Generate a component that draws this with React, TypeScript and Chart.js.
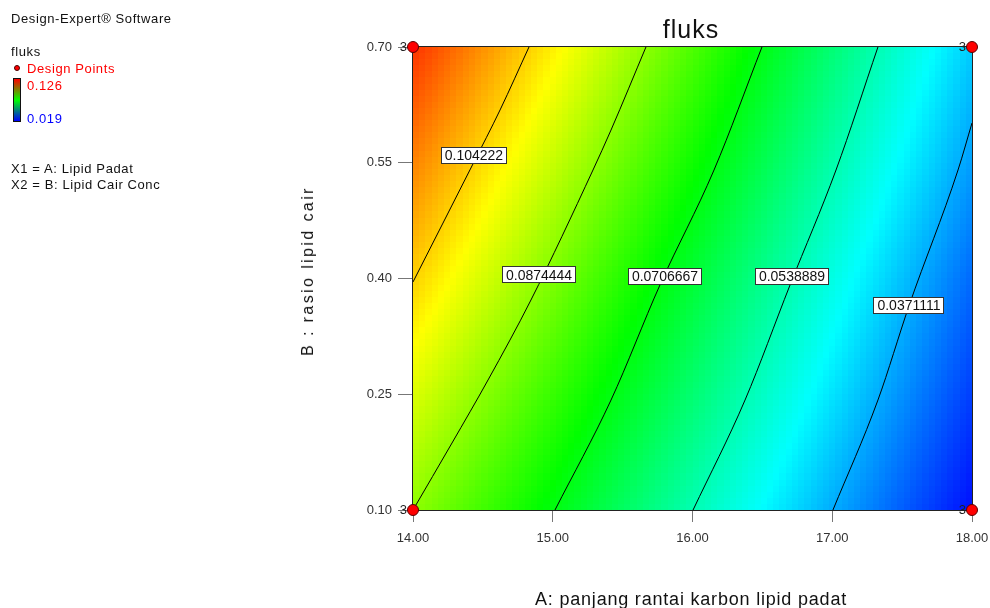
import React, { useEffect, useRef } from "react";
import { Chart, registerables } from "chart.js";
Chart.register(...registerables);

// ---------- data ----------
const A_TICKS = [14, 15, 16, 17, 18];
const B_TICKS = [0.1, 0.25, 0.4, 0.55, 0.7];

// response surface (fluks) sampled on a 5x5 grid of A (columns) and B (rows)
const GRID_A = [14, 15, 16, 17, 18];
const GRID_B = [0.1, 0.25, 0.4, 0.55, 0.7];
const FLUKS_B010 = [0.0874, 0.0709, 0.0539, 0.0371, 0.0205];
const FLUKS_B025 = [0.0958, 0.0782, 0.0607, 0.043, 0.0254];
const FLUKS_B040 = [0.1043, 0.0857, 0.067, 0.0486, 0.03];
const FLUKS_B055 = [0.1124, 0.0933, 0.0739, 0.0546, 0.0355];
const FLUKS_B070 = [0.1208, 0.1008, 0.0806, 0.0604, 0.0403];
const FLUKS_GRID = [FLUKS_B010, FLUKS_B025, FLUKS_B040, FLUKS_B055, FLUKS_B070];

const COLOR_MIN = 0.019;
const COLOR_MAX = 0.126;

// contour lines
const CONTOUR_LEVELS = ["0.104222", "0.0874444", "0.0706667", "0.0538889", "0.0371111"];
const CONTOUR_1 = [
  { x: 14.0, y: 0.3955 },
  { x: 14.429, y: 0.5484 },
  { x: 14.623, y: 0.6184 },
  { x: 14.83, y: 0.7 },
];
const CONTOUR_2 = [
  { x: 14.0, y: 0.1 },
  { x: 14.279, y: 0.1868 },
  { x: 14.537, y: 0.2685 },
  { x: 14.844, y: 0.3721 },
  { x: 15.288, y: 0.5406 },
  { x: 15.417, y: 0.5924 },
  { x: 15.667, y: 0.7 },
];
const CONTOUR_3 = [
  { x: 15.016, y: 0.1 },
  { x: 15.417, y: 0.2425 },
  { x: 15.767, y: 0.3916 },
  { x: 16.154, y: 0.5406 },
  { x: 16.497, y: 0.7 },
];
const CONTOUR_4 = [
  { x: 16.004, y: 0.1 },
  { x: 16.376, y: 0.2425 },
  { x: 16.698, y: 0.3916 },
  { x: 17.027, y: 0.5406 },
  { x: 17.327, y: 0.7 },
];
const CONTOUR_5 = [
  { x: 17.005, y: 0.1 },
  { x: 17.327, y: 0.2425 },
  { x: 17.55, y: 0.365 },
  { x: 17.9, y: 0.5406 },
  { x: 18.0, y: 0.6015 },
];
const CONTOURS = [CONTOUR_1, CONTOUR_2, CONTOUR_3, CONTOUR_4, CONTOUR_5];
const CONTOUR_LABEL_A = [14.436, 14.902, 15.803, 16.712, 17.549];
const CONTOUR_LABEL_B = [0.56, 0.405, 0.4026, 0.4026, 0.365];

// design points
const DESIGN_POINTS = [
  { x: 14, y: 0.1 },
  { x: 14, y: 0.7 },
  { x: 18, y: 0.1 },
  { x: 18, y: 0.7 },
];
const DESIGN_POINT_REPS = ["3", "3", "3", "3"];

// ---------- helpers ----------
const FONT = "'Liberation Sans', Arial, sans-serif";

function fluksAt(a: number, b: number): number {
  let i = GRID_A.length - 2;
  for (let k = 0; k < GRID_A.length - 1; k++) {
    if (a <= GRID_A[k + 1]) { i = k; break; }
  }
  let j = GRID_B.length - 2;
  for (let k = 0; k < GRID_B.length - 1; k++) {
    if (b <= GRID_B[k + 1]) { j = k; break; }
  }
  const ta = (a - GRID_A[i]) / (GRID_A[i + 1] - GRID_A[i]);
  const tb = (b - GRID_B[j]) / (GRID_B[j + 1] - GRID_B[j]);
  const v00 = FLUKS_GRID[j][i];
  const v10 = FLUKS_GRID[j][i + 1];
  const v01 = FLUKS_GRID[j + 1][i];
  const v11 = FLUKS_GRID[j + 1][i + 1];
  return v00 * (1 - ta) * (1 - tb) + v10 * ta * (1 - tb) + v01 * (1 - ta) * tb + v11 * ta * tb;
}

const CMAP: [number, number, number, number][] = [
  [0, 0, 0, 255],
  [0.25, 0, 255, 255],
  [0.5, 0, 255, 0],
  [0.75, 255, 255, 0],
  [1, 255, 0, 0],
];
function colorFor(v: number): string {
  let t = (v - COLOR_MIN) / (COLOR_MAX - COLOR_MIN);
  t = Math.max(0, Math.min(1, t));
  for (let k = 0; k < CMAP.length - 1; k++) {
    const s0 = CMAP[k], s1 = CMAP[k + 1];
    if (t <= s1[0]) {
      const f = (t - s0[0]) / (s1[0] - s0[0]);
      const r = Math.round(s0[1] + (s1[1] - s0[1]) * f);
      const g = Math.round(s0[2] + (s1[2] - s0[2]) * f);
      const bl = Math.round(s0[3] + (s1[3] - s0[3]) * f);
      return `rgb(${r},${g},${bl})`;
    }
  }
  return "rgb(255,0,0)";
}

const surfacePlugin = {
  id: "surface",
  beforeDatasetsDraw(chart: any) {
    const { ctx, chartArea: ca, scales } = chart;
    const xs = scales.x, ys = scales.y;
    const nx = 90, ny = 76;
    const a0 = xs.min, a1 = xs.max, b0 = ys.min, b1 = ys.max;
    ctx.save();
    for (let i = 0; i < nx; i++) {
      const aL = a0 + ((a1 - a0) * i) / nx;
      const aR = a0 + ((a1 - a0) * (i + 1)) / nx;
      const px0 = Math.round(xs.getPixelForValue(aL));
      const px1 = Math.round(xs.getPixelForValue(aR));
      for (let j = 0; j < ny; j++) {
        const bL = b0 + ((b1 - b0) * j) / ny;
        const bH = b0 + ((b1 - b0) * (j + 1)) / ny;
        const py0 = Math.round(ys.getPixelForValue(bH));
        const py1 = Math.round(ys.getPixelForValue(bL));
        ctx.fillStyle = colorFor(fluksAt((aL + aR) / 2, (bL + bH) / 2));
        ctx.fillRect(px0, py0, px1 - px0, py1 - py0);
      }
    }
    // frame
    ctx.strokeStyle = "#222";
    ctx.lineWidth = 1;
    ctx.strokeRect(Math.round(ca.left) - 0.5, Math.round(ca.top) - 0.5, Math.round(ca.right - ca.left) + 1, Math.round(ca.bottom - ca.top) + 1);
    ctx.restore();
  },
  afterDatasetsDraw(chart: any) {
    const { ctx, scales } = chart;
    const xs = scales.x, ys = scales.y;
    ctx.save();
    ctx.font = `14px ${FONT}`;
    ctx.textBaseline = "middle";
    ctx.textAlign = "center";
    for (let k = 0; k < CONTOUR_LEVELS.length; k++) {
      const cx = xs.getPixelForValue(CONTOUR_LABEL_A[k]);
      const cy = ys.getPixelForValue(CONTOUR_LABEL_B[k]);
      const w = Math.round(ctx.measureText(CONTOUR_LEVELS[k]).width + 8);
      const h = 17;
      const left = Math.round(cx - w / 2), top = Math.round(cy - h / 2);
      ctx.fillStyle = "#ffffff";
      ctx.fillRect(left, top, w, h);
      ctx.strokeStyle = "#333";
      ctx.lineWidth = 1;
      ctx.strokeRect(left + 0.5, top + 0.5, w - 1, h - 1);
      ctx.fillStyle = "#111";
      ctx.fillText(CONTOUR_LEVELS[k], cx, cy + 1);
    }
    ctx.font = `13px ${FONT}`;
    ctx.textAlign = "right";
    ctx.fillStyle = "#222";
    for (let k = 0; k < DESIGN_POINTS.length; k++) {
      const px = xs.getPixelForValue(DESIGN_POINTS[k].x);
      const py = ys.getPixelForValue(DESIGN_POINTS[k].y);
      ctx.fillText(DESIGN_POINT_REPS[k], px - 6, py);
    }
    ctx.restore();
  },
};

export default function App() {
  const ref = useRef<HTMLCanvasElement | null>(null);

  useEffect(() => {
    if (!ref.current) return;
    const contourSets = CONTOURS.map((pts, k) => ({
      label: CONTOUR_LEVELS[k],
      data: pts,
      showLine: true,
      borderColor: "#000",
      borderWidth: 1,
      pointRadius: 0,
      cubicInterpolationMode: "monotone",
      order: 2,
    }));
    const chart = new Chart(ref.current, {
      type: "scatter",
      data: {
        datasets: [
          {
            label: "Design Points",
            data: DESIGN_POINTS,
            showLine: false,
            pointRadius: 5.5,
            pointBackgroundColor: "#ff0000",
            pointBorderColor: "#5a0000",
            pointBorderWidth: 1,
            clip: false as any,
            order: 0,
          } as any,
          ...contourSets,
        ],
      },
      options: {
        animation: false,
        responsive: false,
        events: [],
        devicePixelRatio: 1,
        layout: { padding: { top: 47, right: 18, left: 0, bottom: 0 } },
        plugins: {
          legend: { display: false },
          tooltip: { enabled: false },
          title: { display: false },
        },
        scales: {
          x: {
            type: "linear",
            min: 14,
            max: 18,
            afterFit: (s: any) => {
              s.height = 98;
              s.paddingLeft = 0; s.paddingRight = 0; s.paddingTop = 0; s.paddingBottom = 0;
            },
            afterBuildTicks: (s: any) => { s.ticks = A_TICKS.map((v) => ({ value: v })); },
            ticks: {
              callback: (v: any) => Number(v).toFixed(2),
              font: { family: FONT, size: 13 },
              color: "#333",
              padding: 9,
              maxRotation: 0,
            },
            grid: { drawOnChartArea: false, drawTicks: true, tickLength: 12, color: "#777" },
            border: { display: false },
          },
          y: {
            type: "linear",
            min: 0.1,
            max: 0.7,
            afterFit: (s: any) => {
              s.width = 413;
              s.paddingLeft = 0; s.paddingRight = 0; s.paddingTop = 0; s.paddingBottom = 0;
            },
            afterBuildTicks: (s: any) => { s.ticks = B_TICKS.map((v) => ({ value: v })); },
            ticks: {
              callback: (v: any) => Number(v).toFixed(2),
              font: { family: FONT, size: 13 },
              color: "#333",
              padding: 6,
            },
            grid: { drawOnChartArea: false, drawTicks: true, tickLength: 15, color: "#777" },
            border: { display: false },
          },
        },
      },
      plugins: [surfacePlugin],
    } as any);
    return () => chart.destroy();
  }, []);

  const txt = (extra: React.CSSProperties): React.CSSProperties => ({
    position: "absolute",
    fontFamily: FONT,
    fontSize: 13,
    lineHeight: "13px",
    letterSpacing: "0.6px",
    whiteSpace: "nowrap",
    color: "#111",
    ...extra,
  });

  return (
    <div style={{ position: "fixed", left: 0, top: 0, width: 990, height: 608, overflow: "hidden", background: "#fff" }}>
      <canvas ref={ref} width={990} height={608} style={{ position: "absolute", left: 0, top: 0, width: 990, height: 608 }} />
      <div style={txt({ left: 11, top: 12 })}>Design-Expert® Software</div>
      <div style={txt({ left: 11, top: 45 })}>fluks</div>
      <div style={{ position: "absolute", left: 14, top: 65, width: 6, height: 6, borderRadius: 3, background: "#ff0000", border: "1px solid #400", boxSizing: "border-box" }} />
      <div style={txt({ left: 27, top: 62, color: "#ff0000" })}>Design Points</div>
      <div style={{ position: "absolute", left: 13, top: 78, width: 8, height: 44, boxSizing: "border-box", border: "1px solid #111", background: "linear-gradient(to bottom, #ff0000, #00ff00, #0000ff)" }} />
      <div style={txt({ left: 27, top: 79, color: "#ff0000" })}>0.126</div>
      <div style={txt({ left: 27, top: 112, color: "#0000ff" })}>0.019</div>
      <div style={txt({ left: 11, top: 162 })}>X1 = A: Lipid Padat</div>
      <div style={txt({ left: 11, top: 178 })}>X2 = B: Lipid Cair Conc</div>
      <div style={txt({ left: 691, top: 17, fontSize: 25, lineHeight: "25px", letterSpacing: "1px", transform: "translateX(-50%)" })}>fluks</div>
      <div style={txt({ left: 691, top: 590, fontSize: 18, lineHeight: "18px", letterSpacing: "0.8px", transform: "translateX(-50%)" })}>A: panjang rantai karbon lipid padat</div>
      <div style={txt({ left: 308, top: 271, fontSize: 16, lineHeight: "16px", letterSpacing: "2.4px", transform: "translate(-50%, -50%) rotate(-90deg)" })}>B : rasio lipid cair</div>
    </div>
  );
}
